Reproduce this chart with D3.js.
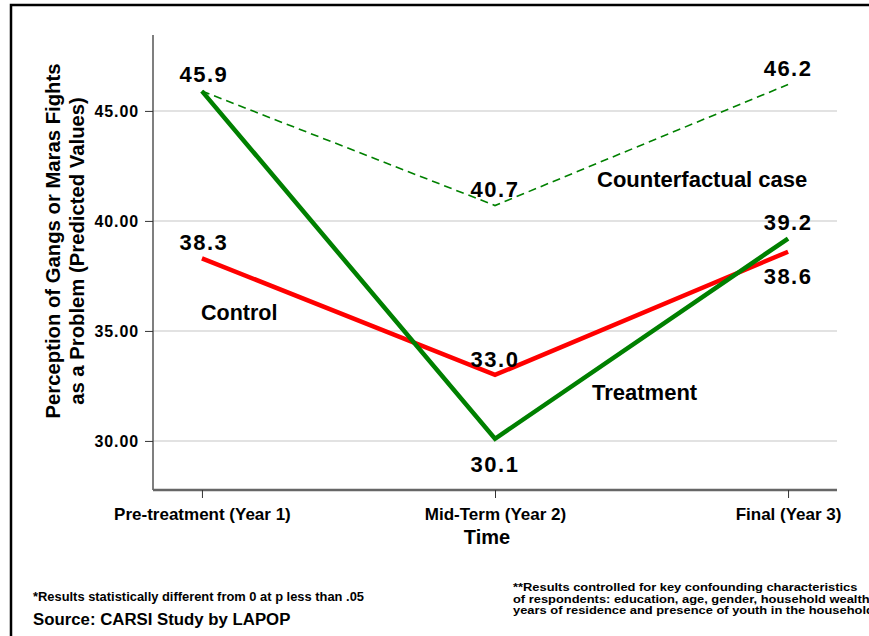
<html>
<style>
  body { margin: 0; background: #fff; }
  svg text { font-family: "Liberation Sans", Arial, Helvetica, sans-serif; font-weight: bold; fill: #000; }
</style>
<script src="https://d3js.org/d3.v7.min.js"></script>
<body>
<svg id="chart" width="869" height="636"></svg>
</body>
<script>
  // periods on the x axis
  const periods = ["Pre-treatment (Year 1)", "Mid-Term (Year 2)", "Final (Year 3)"]
  // predicted values
  const treatment = [45.9, 30.1, 39.2]
  const control = [38.3, 33.0, 38.6]
  const counterfactual = [45.9, 40.7, 46.2]
  const yTicks = [30, 35, 40, 45]

  const svg = d3.select("#chart")

  // frame (top and left edges only, like the source image)
  svg.append("path").attr("d", "M11,636V5H869")
    .attr("fill", "none").attr("stroke", "#000").attr("stroke-width", 2.5)

  const plotL = 153, plotR = 837, plotT = 35, plotB = 490
  const x = d3.scalePoint().domain(periods).range([plotL, plotR]).padding(0.167)
  const y = d3.scaleLinear().domain([27.77, 48.45]).range([plotB, plotT])

  // gridlines
  svg.append("g").selectAll("line").data(yTicks).enter().append("line")
    .attr("x1", plotL).attr("x2", plotR)
    .attr("y1", d => y(d)).attr("y2", d => y(d))
    .attr("stroke", "#e2e2e2").attr("stroke-width", 2)

  // y axis
  const yAxis = svg.append("g").attr("transform", `translate(${plotL},0)`)
    .call(d3.axisLeft(y).tickValues(yTicks).tickFormat(d3.format(".2f")).tickSize(8).tickPadding(6))
  yAxis.select(".domain").attr("d", `M0,${plotT}V${plotB}`).attr("stroke", "#555").attr("stroke-width", 1.5)
  yAxis.selectAll(".tick line").attr("stroke", "#333")
  yAxis.selectAll(".tick text").style("font-size", "16px").style("letter-spacing", "0.9px")
    .style("font-family", "Liberation Sans, Arial, sans-serif").style("font-weight", "bold")

  // x axis
  const xAxis = svg.append("g").attr("transform", `translate(0,${plotB})`)
    .call(d3.axisBottom(x).tickSize(8).tickPadding(10))
  xAxis.select(".domain").attr("d", `M${plotL},0H${plotR}`).attr("stroke", "#666").attr("stroke-width", 2.5)
  xAxis.selectAll(".tick line").attr("stroke", "#333").attr("y1", 0)
  xAxis.selectAll(".tick text").style("font-size", "17px")
    .style("font-family", "Liberation Sans, Arial, sans-serif").style("font-weight", "bold")

  // axis titles
  svg.append("text").attr("x", 487).attr("y", 544).attr("text-anchor", "middle")
    .style("font-size", "20px").text("Time")
  svg.append("text").attr("transform", "translate(60,241) rotate(-90)").attr("text-anchor", "middle")
    .style("font-size", "20.3px").text("Perception of Gangs or Maras Fights")
  svg.append("text").attr("transform", "translate(84,251) rotate(-90)").attr("text-anchor", "middle")
    .style("font-size", "20.3px").text("as a Problem (Predicted Values)")

  // lines
  const line = d3.line().x((d, i) => x(periods[i])).y(d => y(d))
  svg.append("path").datum(counterfactual).attr("d", line)
    .attr("fill", "none").attr("stroke", "#008000").attr("stroke-width", 1.6).attr("stroke-dasharray", "8,5")
  svg.append("path").datum(control).attr("d", line)
    .attr("fill", "none").attr("stroke", "#ff0000").attr("stroke-width", 4.5)
  svg.append("path").datum(treatment).attr("d", line)
    .attr("fill", "none").attr("stroke", "#008000").attr("stroke-width", 4.5)

  // value labels: [series, index, dy from point to baseline]
  const valueLabels = [
    [treatment, 0, -9], [counterfactual, 1, -9], [counterfactual, 2, -9],
    [control, 0, -8], [control, 1, -8], [treatment, 1, 33],
    [treatment, 2, -9], [control, 2, 32]
  ]
  svg.append("g").selectAll("text").data(valueLabels).enter().append("text")
    .attr("x", d => x(periods[d[1]]) + (d[1] == 0 ? 2 : 0))
    .attr("y", d => y(d[0][d[1]]) + d[2])
    .attr("text-anchor", "middle")
    .style("font-size", "22px").style("letter-spacing", "1.5px")
    .text(d => d3.format(".1f")(d[0][d[1]]))

  // series names
  svg.append("text").attr("x", 597).attr("y", 187).style("font-size", "22px").text("Counterfactual case")
  svg.append("text").attr("x", 201).attr("y", 320).style("font-size", "21.5px").text("Control")
  svg.append("text").attr("x", 592).attr("y", 400).style("font-size", "22px").text("Treatment")

  // footnotes
  svg.append("text").attr("x", 33).attr("y", 601).style("font-size", "12.9px")
    .text("*Results statistically different from 0 at p less than .05")
  svg.append("text").attr("x", 33).attr("y", 625).style("font-size", "16.8px")
    .text("Source: CARSI Study by LAPOP")

  // right note: small, horizontally stretched type as in the source (runs off the right edge there too)
  const note = ["**Results controlled for key confounding characteristics",
                "of respondents: education, age, gender, household wealth,",
                "years of residence and presence of youth in the household."]
  const noteG = svg.append("g")
  noteG.selectAll("text").data(note).enter().append("text")
    .attr("x", 0).attr("y", (d, i) => 591 + i * 11.6)
    .style("font-size", "10.3px").text(d => d)
  const w0 = noteG.select("text").node().getComputedTextLength()
  noteG.attr("transform", `translate(513,0) scale(${345 / w0},1)`)
</script>
</html>
